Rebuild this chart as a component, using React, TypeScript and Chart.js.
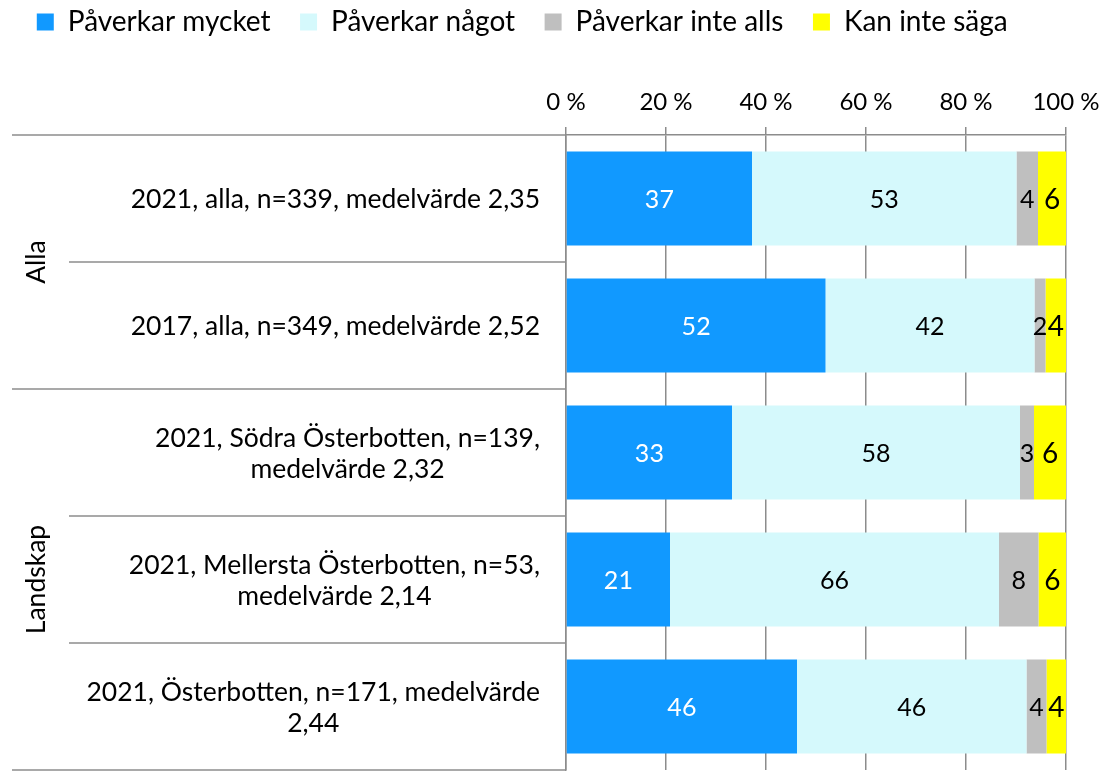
import React, { useEffect, useRef } from 'react';
import { Chart, registerables } from 'chart.js';

Chart.register(...registerables);

// ---------- data ----------
const categories: string[][] = [
  ['2021, alla, n=339, medelvärde 2,35'],
  ['2017, alla, n=349, medelvärde 2,52'],
  ['2021, Södra Österbotten, n=139,', 'medelvärde 2,32'],
  ['2021, Mellersta Österbotten, n=53,', 'medelvärde 2,14'],
  ['2021, Österbotten, n=171, medelvärde', '2,44'],
];
const groupLabels = ['Alla', 'Landskap'];
const groupStarts = [0, 2]; // index of first category in each group
const seriesNames = ['Påverkar mycket', 'Påverkar något', 'Påverkar inte alls', 'Kan inte säga'];
const paverkarMycket = [37.2, 51.9, 33.2, 20.8, 46.2];
const paverkarNagot = [52.9, 41.8, 57.6, 65.8, 45.9];
const paverkarInteAlls = [4.3, 2.2, 2.8, 7.9, 4.0];
const kanInteSaga = [5.6, 4.1, 6.4, 5.5, 3.9];
const xTickValues = [0, 20, 40, 60, 80, 100];
const xTickSuffix = ' %';

// ---------- style ----------
const FONT = 'Lato';
const FS_CAT = 26.5;
const FS_LEGEND = 28;
const FS_TICK = 24;
const FS_VALUE = 25;
const FS_VALUE_BIG = 28;
const colors = ['#1199ff', '#d5f9fc', '#bfbfbf', '#ffff00'];
const labelColors = ['#ffffff', '#000000', '#000000', '#000000'];
const lineColor = '#8c8c8c';

const valueLabelsPlugin = {
  id: 'valueLabels',
  afterDatasetsDraw(chart: any) {
    const ctx = chart.ctx;
    chart.data.datasets.forEach((ds: any, di: number) => {
      const meta = chart.getDatasetMeta(di);
      meta.data.forEach((el: any, i: number) => {
        const v = ds.data[i] as number;
        const p = el.getProps(['x', 'base', 'y'], true);
        ctx.save();
        ctx.fillStyle = labelColors[di];
        ctx.font = `${di === 3 ? FS_VALUE_BIG : FS_VALUE}px ${FONT}`;
        ctx.textAlign = 'center';
        ctx.textBaseline = 'middle';
        ctx.fillText(String(Math.round(v)), (p.x + p.base) / 2, p.y + 1);
        ctx.restore();
      });
    });
  },
};

const categoryLabelsPlugin = {
  id: 'categoryLabels',
  afterDraw(chart: any) {
    const ctx = chart.ctx;
    const y = chart.scales.y;
    const area = chart.chartArea;
    const n = categories.length;
    ctx.save();
    ctx.font = `${FS_CAT}px ${FONT}`;
    ctx.fillStyle = '#000';
    ctx.textAlign = 'center';
    ctx.textBaseline = 'middle';
    const lineH = 31;
    const right = area.left - 26;
    categories.forEach((lines, i) => {
      const cy = y.getPixelForValue(i);
      const w = Math.max(...lines.map((l) => ctx.measureText(l).width));
      const cx = right - w / 2;
      lines.forEach((l, j) => ctx.fillText(l, cx, cy + (j - (lines.length - 1) / 2) * lineH + 1));
    });
    const boundary = (k: number) => {
      if (k <= 0) return y.top;
      if (k >= n) return y.bottom;
      return (y.getPixelForValue(k - 1) + y.getPixelForValue(k)) / 2;
    };
    ctx.strokeStyle = lineColor;
    ctx.lineWidth = 1.5;
    for (let k = 0; k <= n; k++) {
      const isGroup = k === n || groupStarts.includes(k);
      const by = boundary(k);
      ctx.beginPath();
      ctx.moveTo(isGroup ? 12 : 69, by);
      ctx.lineTo(area.left, by);
      ctx.stroke();
    }
    groupLabels.forEach((g, gi) => {
      const from = groupStarts[gi];
      const to = gi + 1 < groupStarts.length ? groupStarts[gi + 1] : n;
      const cy = (boundary(from) + boundary(to)) / 2;
      ctx.save();
      ctx.translate(36, cy);
      ctx.rotate(-Math.PI / 2);
      ctx.fillText(g, 0, 0);
      ctx.restore();
    });
    ctx.restore();
  },
};

export default function App() {
  const ref = useRef<HTMLCanvasElement | null>(null);
  useEffect(() => {
    document.body.style.margin = '0';
    const canvas = ref.current!;
    const series = [paverkarMycket, paverkarNagot, paverkarInteAlls, kanInteSaga];
    const chart = new Chart(canvas, {
      type: 'bar',
      data: {
        labels: categories.map((c) => c.join(' ')),
        datasets: series.map((d, i) => ({
          label: seriesNames[i],
          data: d,
          backgroundColor: colors[i],
          borderWidth: 0,
          barPercentage: 0.74,
          categoryPercentage: 1,
        })),
      },
      options: {
        indexAxis: 'y',
        responsive: false,
        animation: false,
        layout: { padding: { left: 0, right: 36, top: 0, bottom: 1 } },
        plugins: {
          legend: {
            position: 'top',
            align: 'center',
            labels: {
              boxWidth: 17,
              boxHeight: 17,
              padding: 8,
              color: '#000',
              font: { family: FONT, size: FS_LEGEND },
              generateLabels: (chart: any) => {
                const items = Chart.defaults.plugins.legend.labels.generateLabels(chart);
                return items.map((it: any) => ({ ...it, text: it.text + '   ' }));
              },
            },
          },
          tooltip: { enabled: false },
        },
        scales: {
          x: {
            position: 'top',
            stacked: true,
            min: 0,
            max: 100,
            afterBuildTicks: (s: any) => {
              s.ticks = xTickValues.map((v) => ({ value: v }));
            },
            afterFit: (s: any) => {
              s.height = 135 - 46;
              s.paddingLeft = 0;
              s.paddingRight = 0;
            },
            ticks: {
              color: '#000',
              padding: 10,
              font: { family: FONT, size: FS_TICK },
              callback: (v: any) => `${v}${xTickSuffix}`,
            },
            grid: { color: lineColor, lineWidth: 1.5, tickLength: 8 },
            border: { color: lineColor, width: 1.5 },
          },
          y: {
            stacked: true,
            afterFit: (s: any) => {
              s.width = 566;
            },
            ticks: { display: false },
            grid: { display: false },
            border: { color: lineColor, width: 1.5 },
          },
        },
      },
      plugins: [valueLabelsPlugin, categoryLabelsPlugin],
    } as any);
    return () => chart.destroy();
  }, []);
  return (
    <div style={{ width: 1102, height: 771 }}>
      <canvas ref={ref} width={1102} height={771} style={{ display: 'block' }} />
    </div>
  );
}
